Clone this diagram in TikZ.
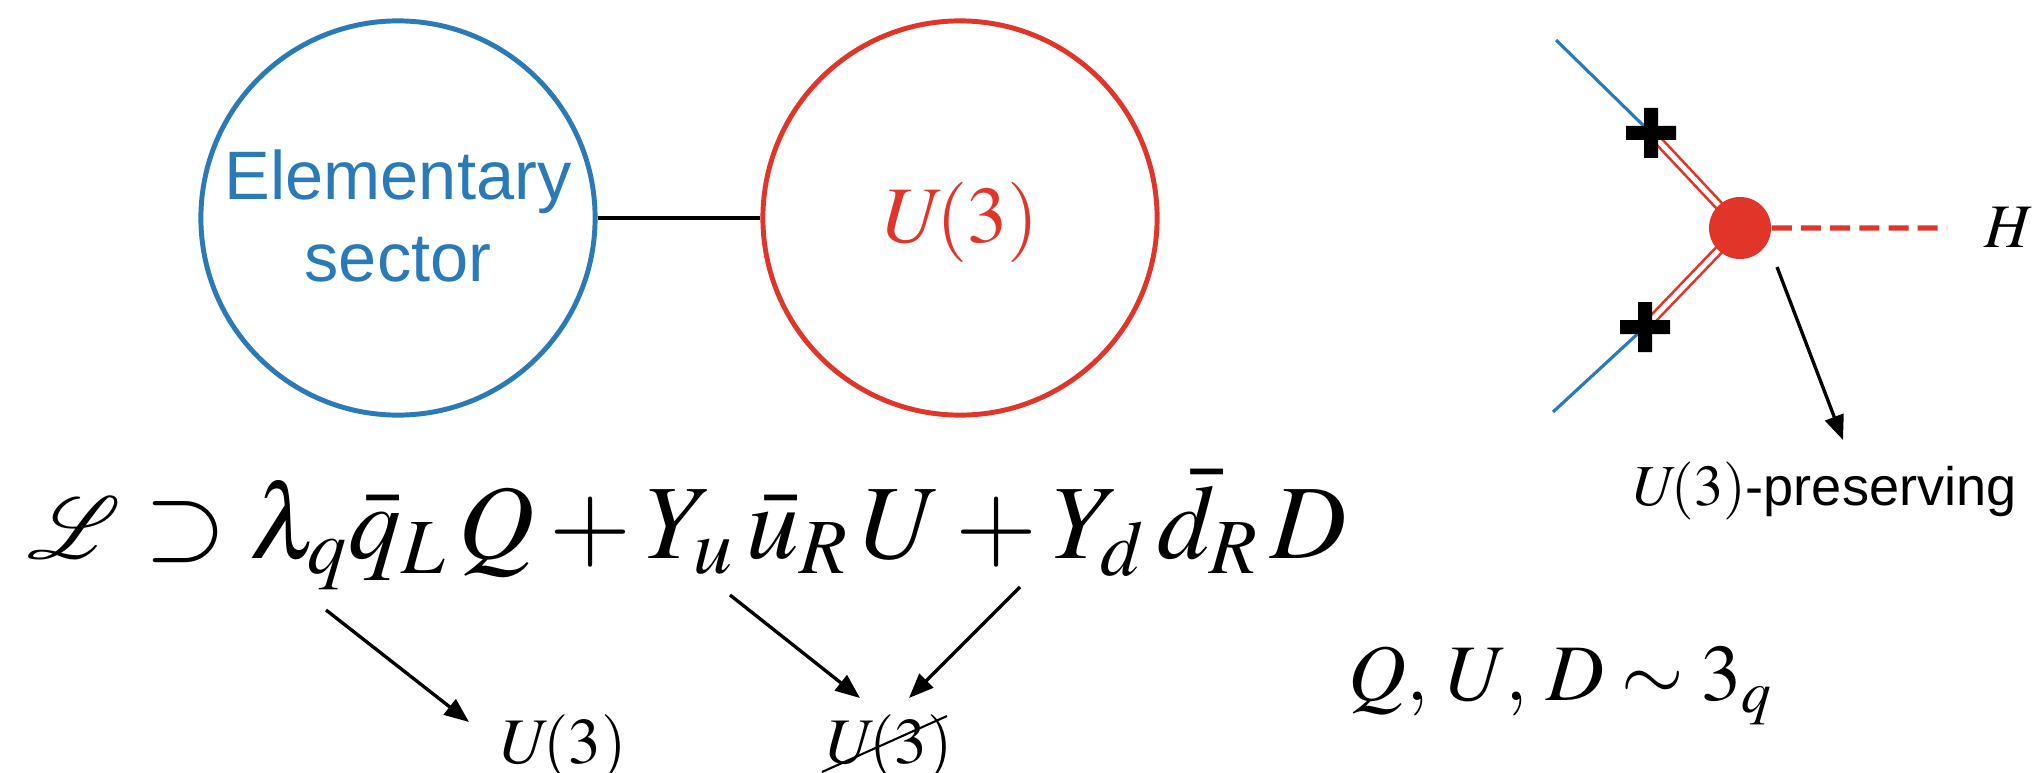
\documentclass[tikz,border=0pt]{standalone}
\usepackage{mathptmx}
\usepackage{mathrsfs}
\usepackage{fontspec}
\setsansfont{Liberation Sans}
\usetikzlibrary{arrows.meta}
\definecolor{qblue}{HTML}{2A7AB8}
\definecolor{fred}{HTML}{E1352A}
\newcommand{\Uthr}{U\mkern-2mu(3)}

\begin{document}
\begin{tikzpicture}[x=0.01cm,y=-0.01cm,>=Latex,
      sector/.style={circle,line width=1.4pt,minimum size=3.94cm,inner sep=0pt},
      link/.style={line width=1.4pt,draw=black},
      quark/.style={line width=0.9pt,draw=qblue},
      heavy/.style={line width=0.75pt,draw=fred,double=white,double distance=1.4pt},
      higgs/.style={line width=1.5pt,draw=fred,dash pattern=on 5.7pt off 2.6pt},
      maparr/.style={-{Triangle[length=7pt,width=5.5pt]},line width=0.95pt},
      lbl/.style={inner sep=0pt,anchor=base west}]
    \useasboundingbox (0,0) rectangle (2037,773);
    % two sectors
    \node[sector,draw=qblue] (elem) at (398,218) {};
    \node[sector,draw=fred] (flav) at (960,218) {};
    \node[align=center,text=qblue,font=\sffamily\fontsize{19.5}{23.5}\selectfont] (elemtxt) at (398,216) {Elementary\\sector};
    \node[text=fred,font=\fontsize{22.8}{27}\selectfont,inner sep=0pt] (flavtxt) at (961,222) {$\Uthr$};
    \draw[link] (elem) -- (flav);
    % Lagrangian and symmetry labels
    \node[lbl,font=\fontsize{30}{36}\selectfont] (lag) at (27,558)
      {$\mathscr{L}\supset\lambda_q\bar{q}_L\,Q+Y_u\,\bar{u}_R\,U+Y_d\,\bar{d}_R\,D$};
    \node[lbl,font=\fontsize{18.5}{22}\selectfont] (keep) at (500,763) {$\Uthr$};
    \node[lbl,font=\fontsize{18.5}{22}\selectfont] (brk) at (826,763) {$\Uthr$};
    \draw[line width=0.6pt] ([shift={(-4,9)}]brk.base west) -- ([shift={(121,-47)}]brk.base west);
    \coordinate (lamq) at (326,610);
    \coordinate (yu) at (730,595);
    \coordinate (yd) at (1020,587);
    \draw[maparr] (lamq) -- ([shift={(-31,-41)}]keep.base west);
    \draw[maparr] (yu) -- ([shift={(34,-65)}]brk.base west);
    \draw[maparr] (yd) -- ([shift={(83,-65)}]brk.base west);
    \node[lbl,font=\fontsize{22.8}{27}\selectfont] (rep) at (1348,700) {$Q,\,U,\,D\sim 3_q$};
    % vertex with the Higgs
    \coordinate (vtxc) at (1740,228);
    \coordinate (insu) at (1651,133);
    \coordinate (insd) at (1645,327);
    \coordinate (qu) at (1556,40);
    \coordinate (qd) at (1553,412);
    \draw[quark] (qu) -- (insu);
    \draw[quark] (qd) -- (insd);
    \draw[heavy] (insu) -- (vtxc);
    \draw[heavy] (insd) -- (vtxc);
    \node[circle,fill=fred,minimum size=0.62cm,inner sep=0pt] (vtx) at (vtxc) {};
    \fill ([shift={(-25,-7)}]insu) rectangle ([shift={(25,7)}]insu)
          ([shift={(-7,-25)}]insu) rectangle ([shift={(7,25)}]insu);
    \fill ([shift={(-25,-7)}]insd) rectangle ([shift={(25,7)}]insd)
          ([shift={(-7,-25)}]insd) rectangle ([shift={(7,25)}]insd);
    \node[lbl,font=\fontsize{17.6}{21}\selectfont] (hig) at (1984,248) {$H$};
    \draw[higgs,shorten >=10.5pt] (vtx) -- (hig.west);
    \node[lbl,font=\fontsize{16.5}{20}\selectfont] (pres) at (1633,505)
      {$\Uthr$\sffamily\fontsize{15.4}{20}\selectfont-preserving};
    \coordinate (vtxo) at (1777,267);
    \draw[maparr] (vtxo) -- ([shift={(210,-65)}]pres.base west);
\end{tikzpicture}
\end{document}
